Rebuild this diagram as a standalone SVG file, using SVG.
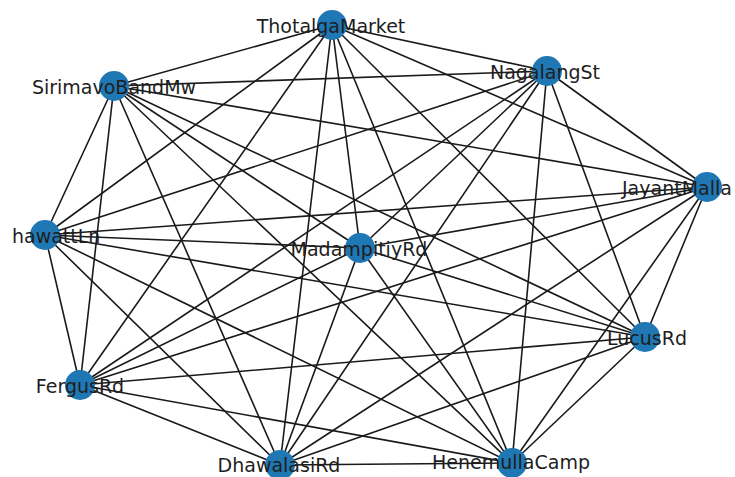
<svg xmlns="http://www.w3.org/2000/svg" width="735" height="477" viewBox="0 0 735 477">
<style>
.e{stroke:#1a1a1a;stroke-width:1.6;fill:none}
.n{fill:#1f77b4}
.t{font-family:"DejaVu Sans","Liberation Sans",sans-serif;font-size:19px;fill:#1e1e1e;dominant-baseline:central}
.m{text-anchor:middle}
</style>
<rect width="735" height="477" fill="#fff"/>
<g id="connectors">
<path class="e" d="M332,25L114,86M332,25L547,71M332,25L707,187M332,25L45,235M332,25L360,248M332,25L645,337M332,25L80,385M332,25L280,465M332,25L512,463"/>
<path class="e" d="M114,86L547,71M114,86L707,187M114,86L45,235M114,86L360,248M114,86L645,337M114,86L80,385M114,86L280,465M114,86L512,463"/>
<path class="e" d="M547,71L707,187M547,71L45,235M547,71L360,248M547,71L645,337M547,71L80,385M547,71L280,465M547,71L512,463"/>
<path class="e" d="M707,187L45,235M707,187L360,248M707,187L645,337M707,187L80,385M707,187L280,465M707,187L512,463"/>
<path class="e" d="M45,235L360,248M45,235L645,337M45,235L80,385M45,235L280,465M45,235L512,463"/>
<path class="e" d="M360,248L645,337M360,248L80,385M360,248L280,465M360,248L512,463"/>
<path class="e" d="M645,337L80,385M645,337L280,465M645,337L512,463"/>
<path class="e" d="M80,385L280,465M80,385L512,463M280,465L512,463"/>
</g>
<g id="ThotalgaMarket"><circle class="n" cx="332" cy="25" r="15"/><text class="t m" x="331" y="26">ThotalgaMarket</text></g>
<g id="SirimavoBandMw"><circle class="n" cx="114" cy="86" r="15"/><text class="t m" x="114" y="87">SirimavoBandMw</text></g>
<g id="NagalangSt"><circle class="n" cx="547" cy="71" r="15"/><text class="t m" x="545" y="72">NagalangSt</text></g>
<g id="JayantMalla"><circle class="n" cx="707" cy="187" r="15"/><text class="t" x="622" y="188">JayantMalla</text></g>
<g id="hawattLn"><circle class="n" cx="45" cy="235" r="15"/><text class="t" x="12" y="236">hawattLn</text></g>
<g id="MadampitiyRd"><circle class="n" cx="360" cy="248" r="15"/><text class="t m" x="359" y="249">MadampitiyRd</text></g>
<g id="LucusRd"><circle class="n" cx="645" cy="337" r="15"/><text class="t m" x="647" y="338">LucusRd</text></g>
<g id="FergusRd"><circle class="n" cx="80" cy="385" r="15"/><text class="t m" x="80" y="386">FergusRd</text></g>
<g id="DhawalasiRd"><circle class="n" cx="280" cy="465" r="15"/><text class="t m" x="279" y="465">DhawalasiRd</text></g>
<g id="HenemullaCamp"><circle class="n" cx="512" cy="463" r="15"/><text class="t m" x="511" y="462">HenemullaCamp</text></g>
</svg>
